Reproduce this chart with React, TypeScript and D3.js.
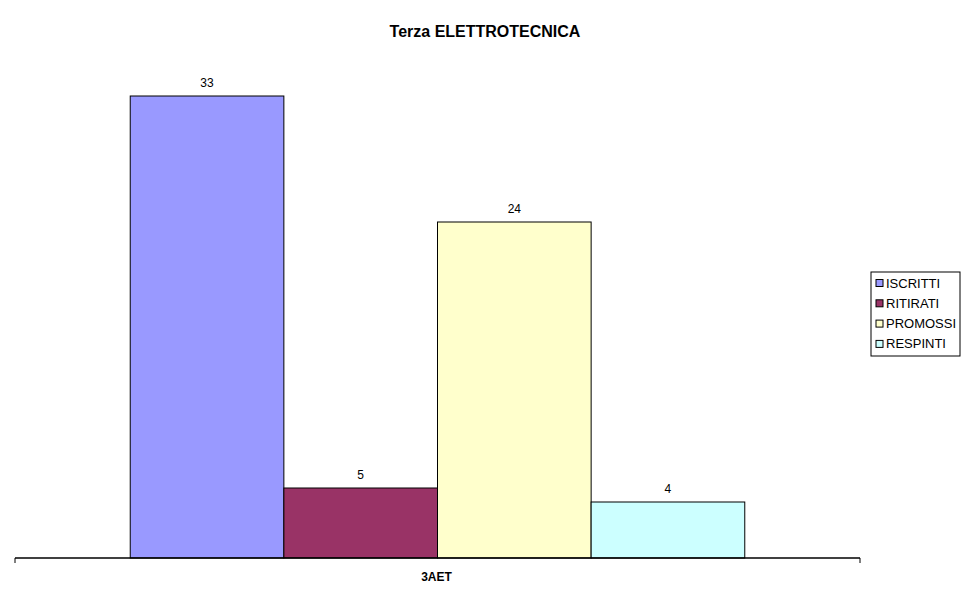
import * as d3 from "d3";
import React, { useEffect, useRef } from "react";

const width = 970;
const height = 604;

const title = "Terza ELETTROTECNICA";
const categories = ["3AET"];
const seriesNames = ["ISCRITTI", "RITIRATI", "PROMOSSI", "RESPINTI"];
const seriesValues = [33, 5, 24, 4];
const seriesColors = ["#9999FF", "#993366", "#FFFFCC", "#CCFFFF"];

export default function App() {
  const holderRef = useRef<HTMLDivElement | null>(null);

  useEffect(() => {
    const holder = holderRef.current;
    if (!holder || holder.hasChildNodes()) return;

    const plot = { left: 15, right: 860, top: 68, bottom: 558 };

    const svg = d3
      .select(holder)
      .append("svg")
      .attr("width", width)
      .attr("height", height)
      .attr("style", "display:block; font-family: 'Liberation Sans', Arial, sans-serif;");

    svg.append("rect").attr("width", width).attr("height", height).attr("fill", "white");

    // category band, then bars inside it (Excel-like 150% gap)
    const x0 = d3
      .scaleBand()
      .domain(categories)
      .range([plot.left, plot.right]);
    const x1 = d3
      .scaleBand()
      .domain(seriesNames)
      .range([0, x0.bandwidth()])
      .paddingOuter(0.75)
      .paddingInner(0);

    const y = d3.scaleLinear().domain([0, 35]).range([plot.bottom, plot.top]);

    const bars = svg.append("g");
    seriesNames.forEach((name, i) => {
      const xPos = (x0(categories[0]) ?? 0) + (x1(name) ?? 0);
      bars
        .append("rect")
        .attr("x", xPos)
        .attr("y", y(seriesValues[i]))
        .attr("width", x1.bandwidth())
        .attr("height", y(0) - y(seriesValues[i]))
        .attr("fill", seriesColors[i])
        .attr("stroke", "black")
        .attr("stroke-width", 1);
      bars
        .append("text")
        .attr("x", xPos + x1.bandwidth() / 2)
        .attr("y", y(seriesValues[i]) - 9)
        .attr("text-anchor", "middle")
        .attr("font-size", 12)
        .attr("fill", "black")
        .text(seriesValues[i]);
    });

    // category axis
    const axis = svg.append("g").attr("transform", `translate(0,${plot.bottom})`);
    axis
      .call(d3.axisBottom(x0).tickSize(0).tickFormat(() => ""))
      .call((g) => g.select(".domain").remove());
    axis
      .append("line")
      .attr("x1", plot.left)
      .attr("x2", plot.right)
      .attr("stroke", "black")
      .attr("stroke-width", 1.5);
    [plot.left, plot.right].forEach((xt) => {
      axis
        .append("line")
        .attr("x1", xt)
        .attr("x2", xt)
        .attr("y1", 0)
        .attr("y2", 5)
        .attr("stroke", "black");
    });
    axis
      .append("text")
      .attr("x", (x0(categories[0]) ?? 0) + x0.bandwidth() / 2 - 1)
      .attr("y", 23)
      .attr("text-anchor", "middle")
      .attr("font-size", 12)
      .attr("font-weight", "bold")
      .attr("fill", "black")
      .text(categories[0]);

    // title
    svg
      .append("text")
      .attr("x", 485)
      .attr("y", 37)
      .attr("text-anchor", "middle")
      .attr("font-size", 16)
      .attr("font-weight", "bold")
      .attr("fill", "black")
      .text(title);

    // legend
    const legend = svg.append("g").attr("transform", "translate(871,272)");
    legend
      .append("rect")
      .attr("width", 89)
      .attr("height", 84)
      .attr("fill", "white")
      .attr("stroke", "black");
    seriesNames.forEach((name, i) => {
      const cy = 11 + i * 20.3;
      legend
        .append("rect")
        .attr("x", 5)
        .attr("y", cy - 3.5)
        .attr("width", 7)
        .attr("height", 7)
        .attr("fill", seriesColors[i])
        .attr("stroke", "black");
      legend
        .append("text")
        .attr("x", 15)
        .attr("y", cy + 4.5)
        .attr("font-size", 13)
        .attr("fill", "black")
        .text(name);
    });
  }, []);

  return <div ref={holderRef} style={{ margin: -8 }} />;
}
